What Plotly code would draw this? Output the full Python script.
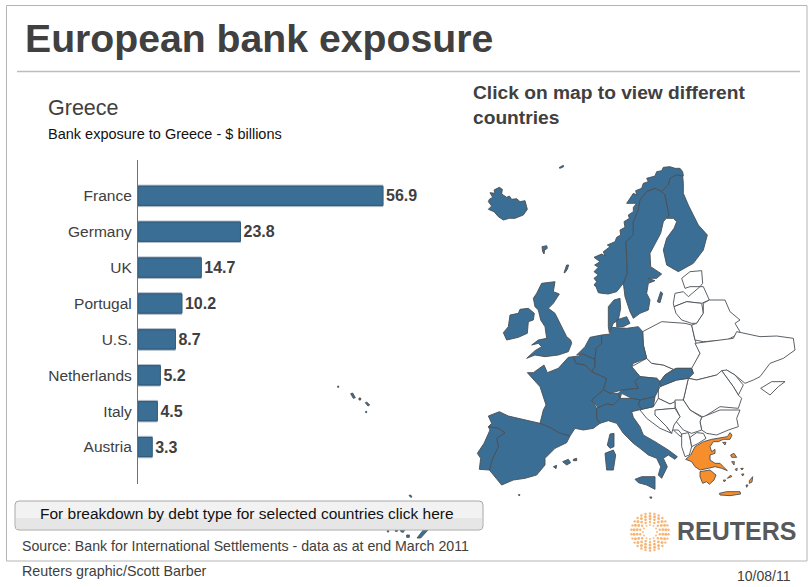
import numpy as np
import plotly.graph_objects as go

# ---------- chart data ----------
countries = ["France", "Germany", "UK", "Portugal", "U.S.", "Netherlands", "Italy", "Austria"]
exposure = [56.9, 23.8, 14.7, 10.2, 8.7, 5.2, 4.5, 3.3]

# ---------- map outlines (units: 1/3 px, origin at 470,150) ----------
iceland = [(58,148),(68,142),(60,128),(75,130),(72,120),(88,112),(97,118),(95,132),(110,142),(118,138),(125,148),(140,146),(150,155),(165,152),(172,178),(160,195),(135,205),(118,205),(100,210),(85,200),(72,185),(55,178),(65,168),(55,155)]
faroe = [(216,290),(230,287),(232,295),(224,300),(222,312),(218,305)]
shetland = [(282,368),(290,345),(296,345),(292,358),(285,368)]
jan_mayen = [(267,53),(280,46),(281,50),(270,55)]
norway = [(395,430),(385,428),(378,410),(372,405),(380,395),(372,385),(385,375),(372,365),(385,352),(374,345),(390,335),(372,322),(395,312),(405,318),(400,305),(420,290),(412,285),(435,275),(440,262),(452,255),(450,240),(465,232),(462,215),(478,205),(475,195),(490,185),(490,172),(500,160),(470,160),(490,130),(500,135),(497,122),(515,115),(520,100),(535,95),(530,85),(555,78),(560,65),(575,62),(580,52),(600,50),(615,55),(630,55),(638,65),(640,78),(620,75),(600,85),(595,105),(575,125),(555,115),(530,125),(510,150),(505,180),(490,215),(490,255),(468,275),(470,320),(472,370),(460,400),(440,425),(415,432)]
sweden = [(490,255),(490,215),(505,180),(510,150),(530,125),(555,115),(575,125),(585,135),(597,195),(580,215),(572,250),(555,280),(540,310),(542,350),(565,365),(575,372),(560,385),(535,385),(555,392),(535,400),(530,430),(540,450),(535,480),(510,490),(490,505),(480,485),(465,440),(460,400),(472,370),(470,320),(468,275)]
finland = [(595,105),(600,85),(620,75),(638,78),(640,100),(640,130),(655,165),(685,225),(712,255),(700,300),(670,340),(625,365),(590,345),(580,300),(590,265),(612,235),(620,215),(610,205),(590,205),(597,195),(585,135),(575,125)]
gotland = [(562,455),(572,425),(578,430),(570,458)]
jutland = [(415,530),(415,470),(432,450),(450,445),(452,475),(445,510),(430,520),(420,540),(418,548)]
zealand = [(440,510),(470,500),(480,520),(460,530),(440,530)]
britain = [(190,445),(200,430),(215,400),(255,395),(250,425),(268,432),(250,460),(235,475),(255,490),(275,530),(290,560),(302,570),(305,580),(295,605),(265,615),(225,620),(195,615),(170,625),(195,602),(215,590),(205,580),(185,585),(205,570),(230,565),(225,530),(212,510),(205,480),(195,470)]
ireland = [(100,548),(115,530),(120,495),(145,490),(150,478),(175,475),(193,490),(190,510),(175,515),(172,550),(145,562),(110,570)]
france = [(172,668),(190,668),(222,645),(232,668),(265,655),(295,622),(310,620),(318,640),(345,645),(365,665),(410,685),(400,720),(365,750),(380,775),(380,805),(390,820),(370,835),(340,840),(315,835),(300,858),(270,850),(245,835),(210,820),(220,780),(228,765),(210,710)]
corsica = [(412,885),(420,852),(432,850),(432,890),(420,895)]
spain = [(55,798),(88,785),(115,798),(170,810),(210,820),(245,835),(270,850),(300,858),(290,878),(255,895),(225,925),(225,945),(200,975),(165,985),(130,990),(95,1005),(70,975),(58,960),(68,925),(85,890),(80,865),(105,848),(85,835),(55,830),(65,820)]
portugal = [(55,830),(85,835),(105,848),(80,865),(85,890),(68,925),(58,960),(28,958),(32,925),(22,910),(42,880),(60,840)]
balearic_a = [(278,935),(295,928),(302,938),(290,945)]
balearic_b = [(310,928),(320,925),(320,932),(310,932)]
balearic_c = [(250,950),(260,946),(258,956)]
belgium = [(310,620),(325,618),(340,612),(375,628),(375,650),(365,665),(345,645),(318,640)]
netherlands = [(320,615),(345,590),(360,562),(395,555),(395,580),(378,595),(375,628),(340,612)]
germany = [(395,555),(420,552),(425,532),(470,535),(505,530),(518,545),(520,585),(530,625),(490,640),(485,650),(510,680),(495,695),(505,715),(455,720),(420,730),(400,720),(410,685),(365,665),(375,650),(375,628),(378,595),(395,580)]
switzerland = [(365,750),(400,720),(420,730),(445,730),(450,745),(430,765),(410,762),(385,775),(380,768)]
austria = [(445,730),(455,720),(505,715),(495,695),(510,680),(560,685),(570,695),(565,720),(555,740),(510,750),(485,745),(455,730),(450,745)]
slovenia = [(510,750),(555,740),(550,770),(515,778),(505,765)]
italy = [(380,775),(410,762),(430,765),(450,745),(485,745),(510,750),(505,765),(515,778),(485,785),(490,802),(510,830),(520,855),(555,875),(595,900),(622,920),(615,928),(595,915),(580,925),(592,950),(575,985),(565,975),(572,950),(560,925),(535,915),(510,895),(490,880),(460,850),(440,820),(415,812),(390,820),(380,805)]
sicily = [(495,988),(515,980),(555,980),(555,1018),(530,1005),(505,998)]
sardinia = [(405,910),(430,900),(437,915),(430,960),(410,960)]
slovakia = [(570,695),(585,675),(620,655),(665,655),(670,670),(655,685),(620,690),(580,705),(570,710)]
czech = [(485,650),(530,625),(545,640),(580,645),(610,658),(585,675),(570,695),(560,685),(510,680)]
poland = [(530,625),(520,585),(518,545),(575,515),(645,520),(665,525),(675,570),(690,610),(670,650),(665,655),(620,655),(610,658),(580,645),(545,640)]
estonia = [(635,385),(660,365),(695,362),(698,400),(690,410),(660,410),(645,415)]
latvia = [(610,460),(615,430),(640,425),(655,440),(690,410),(700,410),(718,450),(695,460),(650,455),(612,470)]
lithuania = [(612,470),(650,455),(695,460),(700,490),(680,520),(665,520),(635,510),(618,490)]
belarus = [(700,460),(718,450),(765,450),(780,485),(810,510),(795,520),(810,545),(790,560),(770,570),(700,575),(675,570),(665,525),(680,520),(700,490)]
ukraine = [(675,580),(730,572),(790,565),(800,545),(845,555),(870,560),(920,558),(970,565),(975,600),(940,625),(900,640),(870,680),(850,690),(825,700),(795,675),(770,660),(740,675),(680,690),(655,685),(670,670),(665,655),(690,610)]
crimea = [(872,715),(905,695),(945,695),(925,710),(900,735),(885,725)]
moldova = [(755,662),(770,660),(795,675),(820,705),(805,735),(790,710)]
romania = [(655,685),(680,690),(740,675),(755,662),(790,710),(805,735),(815,745),(805,775),(750,770),(700,802),(660,780),(640,750)]
hungary = [(570,710),(580,705),(620,690),(655,685),(640,750),(600,762),(565,745),(565,720)]
bulgaria = [(695,802),(750,780),(810,780),(800,805),(805,830),(775,840),(740,855),(710,850),(695,840),(690,815)]
serbia = [(615,750),(640,750),(660,780),(695,802),(690,815),(695,840),(665,850),(640,840),(615,810),(630,800),(615,770)]
croatia = [(515,778),(550,770),(565,745),(600,762),(615,755),(615,775),(560,780),(555,795),(590,830),(605,850),(570,835),(530,805),(510,780)]
bosnia = [(555,780),(615,775),(630,800),(612,825),(605,850),(590,830),(555,795)]
albania = [(635,852),(655,848),(660,865),(665,890),(658,915),(645,920),(635,890)]
macedonia = [(660,862),(680,848),(700,850),(708,865),(685,880),(665,890)]
montenegro = [(610,840),(625,840),(635,852),(632,860)]
greece = [(647,928),(662,915),(675,890),(700,875),(725,868),(755,862),(772,860),(780,848),(786,855),(780,868),(760,868),(745,875),(730,875),(720,890),(725,905),(735,898),(735,910),(720,915),(720,930),(735,940),(750,940),(760,950),(772,962),(755,955),(735,950),(715,955),(690,960),(675,950),(665,935)]
peloponnese = [(690,965),(720,960),(738,975),(732,990),(718,1003),(710,995),(698,1000),(690,980)]
crete = [(748,1030),(770,1025),(810,1025),(812,1032),(780,1037),(750,1035)]
rhodes = [(838,992),(848,980),(846,996),(838,1000)]
lesbos = [(782,915),(792,910),(800,922),(785,922)]
chios = [(785,935),(793,935),(792,945)]
thasos = [(758,877),(768,877),(765,885)]
cyclades_a = [(812,955),(820,955),(816,960)]
cyclades_b = [(795,958),(802,955),(800,963)]
cyclades_c = [(815,972),(822,972),(818,978)]
cyclades_d = [(760,990),(767,990),(763,996)]
cyclades_e = [(828,1005),(834,1005),(830,1012)]
cyclades_f = [(772,985),(782,975),(785,980)]
malta = [(539,1041),(546,1041),(543,1046)]
alboran = [(145,1034),(150,1034),(148,1038)]
azores_a = [(-397,708),(-394,708),(-394,712),(-397,712)]
azores_b = [(-358,731),(-352,729),(-344,743),(-350,745)]
azores_c = [(-333,744),(-328,744),(-328,750),(-333,750)]
azores_d = [(-314,758),(-310,756),(-301,765),(-306,768)]
azores_e = [(-313,784),(-310,784),(-310,788),(-313,788)]
madeira = [(-183,1036),(-178,1035),(-174,1041),(-178,1042)]
canary_a = [(-248,1142),(-244,1142),(-244,1146),(-248,1146)]
canary_b = [(-224,1140),(-218,1140),(-218,1144),(-224,1144)]
canary_c = [(-210,1139),(-196,1139),(-200,1147),(-206,1146)]
canary_d = [(-190,1155),(-182,1155),(-182,1162),(-190,1162)]
canary_e = [(-159,1164),(-140,1140),(-126,1140),(-148,1164)]

BLUE = "#3b6e94"
ORANGE = "#f68e2c"
WHITE = "#ffffff"
blue_polys = [iceland, faroe, shetland, jan_mayen, norway, sweden, finland, gotland, jutland, zealand, britain, ireland,
              france, corsica, spain, portugal, balearic_a, balearic_b, balearic_c, belgium, netherlands, germany,
              switzerland, austria, slovenia, italy, sicily, sardinia, slovakia, malta, alboran,
              azores_a, azores_b, azores_c, azores_d, azores_e, madeira, canary_a, canary_b, canary_c, canary_d, canary_e]
white_polys = [czech, poland, estonia, latvia, lithuania, belarus, ukraine, crimea, moldova, romania, hungary, bulgaria,
               serbia, croatia, bosnia, albania, macedonia, montenegro]
orange_polys = [greece, peloponnese, crete, rhodes, lesbos, chios, thasos, cyclades_a, cyclades_b, cyclades_c,
                cyclades_d, cyclades_e, cyclades_f]

W, H = 810, 587
fig = go.Figure()


def add_polys(polys, color):
    for p in polys:
        xs = [a for a, _ in p] + [p[0][0]]
        ys = [b for _, b in p] + [p[0][1]]
        fig.add_trace(go.Scatter(x=xs, y=ys, xaxis="x2", yaxis="y2", mode="lines", fill="toself", fillcolor=color,
                                 line=dict(color="#4a4f55", width=0.9), hoverinfo="skip", showlegend=False))


add_polys(white_polys, WHITE)
add_polys(blue_polys, BLUE)
add_polys(orange_polys, ORANGE)

# bars
fig.add_trace(go.Bar(x=exposure, y=countries, orientation="h", width=0.6,
                     marker=dict(color=BLUE, line=dict(color="#b4bfca", width=1)),
                     text=[f"{v:.1f}" for v in exposure], textposition="outside", cliponaxis=False,
                     textfont=dict(family="Liberation Sans", size=16, color="#404040", weight="bold"),
                     hoverinfo="skip", showlegend=False))
fig.add_trace(go.Bar(x=exposure, y=countries, orientation="h", width=0.53,
                     marker=dict(color=BLUE, line=dict(color="#335c7c", width=1)),
                     hoverinfo="skip", showlegend=False))

# Reuters logo dots
cx, cy = (650 - 470) * 3, (532 - 150) * 3
lx, ly, ls = [], [], []
for r, n, s in [(21, 12, 1.8), (30, 14, 2.4), (39, 18, 2.8), (48, 22, 3.0), (56, 26, 2.4)]:
    for k in range(n):
        a = 2 * np.pi * (k + 0.5 * (n % 4 == 2)) / n
        lx.append(cx + r * np.cos(a))
        ly.append(cy + r * np.sin(a))
        ls.append(s)
fig.add_trace(go.Scatter(x=lx, y=ly, xaxis="x2", yaxis="y2", mode="markers",
                         marker=dict(color="#f3973f", size=ls, line=dict(width=0)),
                         hoverinfo="skip", showlegend=False))

font = "Liberation Sans"


def note(x, y, text, size, color="#404040", bold=False, xanchor="left", yanchor="middle"):
    fig.add_annotation(xref="paper", yref="paper", x=x / W, y=1 - y / H, text=text, showarrow=False,
                       xanchor=xanchor, yanchor=yanchor, align="left", borderpad=0, borderwidth=0,
                       font=dict(family=font, size=size, color=color, weight="bold" if bold else "normal"))


note(25, 38, "European bank exposure", 39.2, "#404040", True)
note(48, 108, "Greece", 21.5, "#404040")
note(48, 134, "Bank exposure to Greece - $ billions", 14.5, "#111111")
note(473, 105, "Click on map to view different<br>countries", 19.2, "#404040", True)
note(247, 513, "For breakdown by debt type for selected countries click here", 15.5, "#111111", xanchor="center")
note(22, 546, "Source: Bank for International Settlements - data as at end March 2011", 14.2, "#404040")
note(22, 571, "Reuters graphic/Scott Barber", 14.3, "#404040")
note(791, 576, "10/08/11", 14, "#404040", xanchor="right")
note(677, 531, "REUTERS", 25, "#58595b", True)


def rect(x0, y0, x1, y1, **kw):
    return dict(type="rect", xref="paper", yref="paper", x0=x0 / W, x1=x1 / W, y0=1 - y0 / H, y1=1 - y1 / H, **kw)


def line(x0, y0, x1, y1, color, width):
    return dict(type="line", xref="paper", yref="paper", x0=x0 / W, x1=x1 / W, y0=1 - y0 / H, y1=1 - y1 / H,
                line=dict(color=color, width=width))


def round_button(x0, y0, x1, y1, r, fill, border):
    X0, X1 = x0 / W, x1 / W
    Y0, Y1 = 1 - y0 / H, 1 - y1 / H
    rx, ry = r / W, r / H
    path = (f"M{X0+rx},{Y0} L{X1-rx},{Y0} Q{X1},{Y0} {X1},{Y0-ry} L{X1},{Y1+ry} Q{X1},{Y1} {X1-rx},{Y1} "
            f"L{X0+rx},{Y1} Q{X0},{Y1} {X0},{Y1+ry} L{X0},{Y0-ry} Q{X0},{Y0} {X0+rx},{Y0} Z")
    return dict(type="path", xref="paper", yref="paper", path=path, fillcolor=fill, line=dict(color=border, width=1))


shapes = [
    rect(6.5, 5.5, 807, 561, line=dict(color="#b5b5b5", width=1), fillcolor="rgba(0,0,0,0)", layer="below"),
    line(17, 71.5, 800, 71.5, "#bdbdbd", 1.5),
    round_button(15, 501, 483, 530, 4, "#f2f2f2", "#a8a8a8"),
    rect(16, 518, 482, 529, fillcolor="#e6e6e6", line=dict(width=0)),
]
fig.update_layout(
    width=W, height=H, margin=dict(l=0, r=0, t=0, b=0), paper_bgcolor="white", plot_bgcolor="rgba(0,0,0,0)",
    barmode="overlay", showlegend=False, shapes=shapes, autosize=False,
    xaxis=dict(domain=[138 / W, 470 / W], range=[0, 332 / 4.306], visible=False, fixedrange=True),
    yaxis=dict(domain=[1 - 484 / H, 1 - 160 / H], range=[8.03, -1.0], type="category",
               categoryorder="array", categoryarray=countries, showline=True, linecolor="#66727e", linewidth=1.2,
               ticks="", showgrid=False, tickfont=dict(family=font, size=15.5, color="#404040"), ticklabelstandoff=2,
               fixedrange=True),
    xaxis2=dict(domain=[0, 1], range=[-1410, 1020], visible=False, fixedrange=True, anchor="y2"),
    yaxis2=dict(domain=[0, 1], range=[1311, -450], visible=False, fixedrange=True, anchor="x2"),
)
fig.write_html("out.html", config=dict(displayModeBar=False),
               post_script="document.body.style.margin='0';document.documentElement.style.overflow='hidden';")
